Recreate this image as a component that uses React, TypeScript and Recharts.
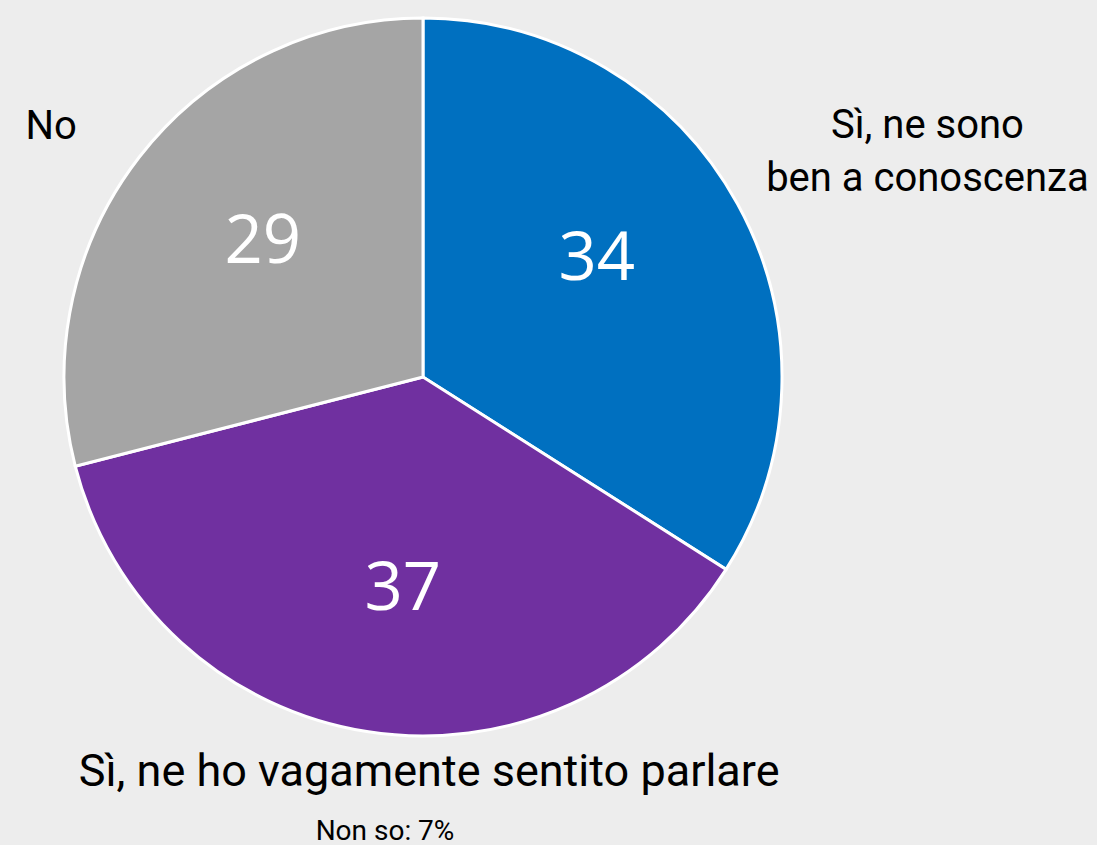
import { PieChart, Pie, Cell } from 'recharts';

const categories = ['Sì, ne sono ben a conoscenza', 'Sì, ne ho vagamente sentito parlare', 'No'];
const nameLines = [['Sì, ne sono', 'ben a conoscenza'], ['Sì, ne ho vagamente sentito parlare'], ['No']];
const values = [34, 37, 29];
const note = 'Non so: 7%';

const colors = ['#0070c0', '#7030a0', '#a5a5a5'];
// outer label centers, in units of the outer radius, relative to the pie center
const namePos = [
  [1.405, -0.632],
  [0.017, 1.095],
  [-1.036, -0.702],
];
const nameSize = [40, 45, 40];
// small angular nudges for the value labels (degrees)
const valueShift = [5.8, 3.5, -2.8];

const data = categories.map((name, i) => ({ name, value: values[i] }));

const RADIAN = Math.PI / 180;

function renderLabel(props: any) {
  const { cx, cy, midAngle, outerRadius, index, value } = props;
  const r = outerRadius * 0.588;
  const a = (midAngle + valueShift[index]) * RADIAN;
  const x = cx + r * Math.cos(a);
  const y = cy - r * Math.sin(a) - 3;
  const [px, py] = namePos[index];
  const lines = nameLines[index];
  const nx = cx + px * outerRadius;
  const ny = cy + py * outerRadius - ((lines.length - 1) * 53) / 2;
  return (
    <g>
      <text
        x={x}
        y={y}
        fill="#fff"
        textAnchor="middle"
        dominantBaseline="central"
        fontFamily="'Open Sans', sans-serif"
        fontSize={67}
      >
        {value}
      </text>
      <text
        x={nx}
        y={ny}
        fill="#000"
        textAnchor="middle"
        dominantBaseline="central"
        fontFamily="Roboto, sans-serif"
        fontSize={nameSize[index]}
      >
        {lines.map((l, i) => (
          <tspan key={i} x={nx} dy={i === 0 ? 0 : 53}>
            {l}
          </tspan>
        ))}
      </text>
    </g>
  );
}

export default function App() {
  return (
    <div style={{ position: 'absolute', left: 0, top: 0, width: 1097, height: 845, background: '#ededed' }}>
      <PieChart width={1097} height={845} margin={{ top: 0, right: 0, bottom: 0, left: 0 }}>
        <Pie
          data={data}
          dataKey="value"
          nameKey="name"
          cx={423}
          cy={377}
          outerRadius={359}
          startAngle={90}
          endAngle={-270}
          stroke="#fff"
          strokeWidth={3}
          label={renderLabel}
          labelLine={false}
          isAnimationActive={false}
        >
          {data.map((d, i) => (
            <Cell key={d.name} fill={colors[i]} />
          ))}
        </Pie>
      </PieChart>
      <div
        style={{
          position: 'absolute',
          left: 0,
          width: 770,
          top: 814,
          textAlign: 'center',
          fontFamily: 'Roboto, sans-serif',
          fontSize: 28,
          lineHeight: '34px',
          color: '#000',
        }}
      >
        {note}
      </div>
    </div>
  );
}
